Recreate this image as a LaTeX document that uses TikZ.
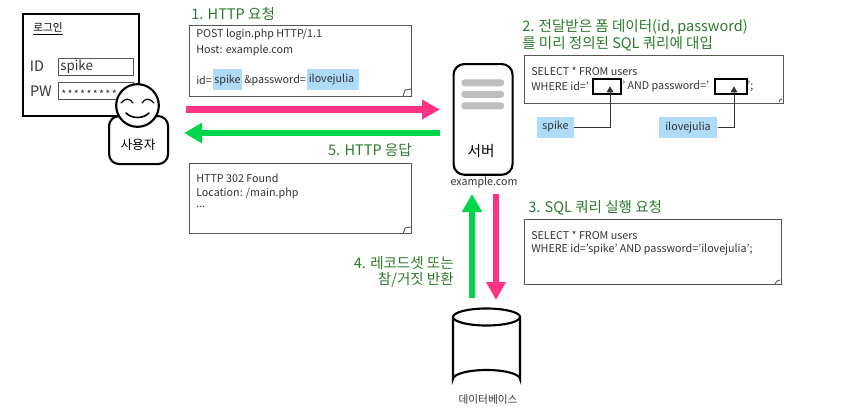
\documentclass[tikz,border=0pt]{standalone}
\usepackage{fontspec}
\setmainfont{Noto Sans CJK KR}
\usetikzlibrary{arrows.meta,positioning,shapes.geometric}
\definecolor{pinkar}{HTML}{FF3385}
\definecolor{greenar}{HTML}{00D64A}
\definecolor{lab}{HTML}{2A7A2A}
\definecolor{hl}{HTML}{ADDBF8}
\definecolor{edge}{HTML}{555555}
\definecolor{barc}{HTML}{BEBEBE}
\definecolor{txt}{HTML}{333333}
\newcommand{\st}{*\kern1pt}
\tikzset{
  x=0.75pt,y=-0.75pt,
  notebox/.style={draw=edge,line width=0.9pt,fill=white,inner sep=0pt,anchor=north west},
  code/.style={anchor=west,inner sep=0pt,font=\fontsize{8.05pt}{10pt}\selectfont,text=txt},
  steplabel/.style={inner sep=0pt,font=\fontsize{10.9pt}{13pt}\selectfont,text=lab},
  hlbox/.style={fill=hl,inner sep=0pt,anchor=north west},
  hltext/.style={inner sep=0pt,font=\fontsize{8.05pt}{10pt}\selectfont,text=txt},
  heavy/.style={draw=black,line width=1.6pt},
  inputbox/.style={draw=edge,line width=0.9pt,fill=white,inner sep=0pt,anchor=north west,minimum width=56.25pt,minimum height=12.75pt},
  slotbox/.style={draw=black,line width=1.2pt,inner sep=0pt,anchor=north west,minimum height=11.25pt},
  pinkarrow/.style={draw=pinkar,line width=5.2pt,-{Triangle[length=13.5pt,width=14pt]}},
  greenarrow/.style={draw=greenar,line width=5.2pt,-{Triangle[length=13.5pt,width=14.5pt]}},
  linkarrow/.style={draw=black!80,line width=0.7pt,-{Triangle[length=4.5pt,width=5pt]}},
  fold/.style={draw=edge,line width=0.7pt,fill=white},
  bar/.style={fill=barc,rounded corners=2.5pt,inner sep=0pt,anchor=north west,minimum width=32.25pt,minimum height=5.25pt},
}
\begin{document}
\begin{tikzpicture}
\useasboundingbox (0,0) rectangle (862,411);
% login form
\node[heavy,draw,fill=white,inner sep=0pt,anchor=north west,minimum width=87pt,minimum height=76.5pt] (login) at (22,12.5) {};
\node[inner sep=0pt,font=\fontsize{8pt}{10pt}\selectfont] (logintitle) at (48,29) {\underline{로그인}};
\node[inner sep=0pt,font=\fontsize{10.8pt}{13pt}\selectfont,text=txt] (idl) at (37,66) {ID};
\node[inner sep=0pt,font=\fontsize{10.8pt}{13pt}\selectfont,text=txt] (pwl) at (41,91) {PW};
\node[inputbox] (idbox) at (57.5,58) {};
\node[inputbox] (pwbox) at (57.5,82) {};
\node[anchor=west,inner sep=0pt,font=\fontsize{10pt}{13pt}\selectfont,text=txt] (idv) at (60,67) {spike};
\node[anchor=west,inner sep=0pt,font=\fontsize{8pt}{10pt}\selectfont,text=txt] (pwv) at (61,94) {\st\st\st\st\st\st\st\st*};
% user
\node[heavy,draw,fill=white,rounded corners=7.5pt,inner sep=0pt,anchor=north west,minimum width=44.25pt,minimum height=36pt] (body) at (108,115) {};
\node[inner sep=0pt,font=\fontsize{9.5pt}{12pt}\selectfont,text=black] (userl) at (138,145) {사용자};
\node[heavy,draw,fill=white,circle,inner sep=0pt,minimum size=32pt] (face) at (137.5,105.5) {};
\draw[black,line width=0.9pt,line cap=round] (121,103) .. controls (125,98) and (130,98) .. (133,103);
\draw[black,line width=0.9pt,line cap=round] (142,103) .. controls (145,98) and (150,98) .. (154,103);
\draw[black,line width=1.2pt,line cap=round] (126,113) .. controls (132,119) and (143,119) .. (149,113);
% note 1
\node[steplabel,anchor=west] (l1) at (191,14) {1. HTTP 요청};
\node[notebox,minimum width=167pt,minimum height=53pt] (n1) at (188.5,25) {};
\node[hlbox,minimum width=21.75pt,minimum height=15.75pt] (h1) at (213,69) {};
\node[hlbox,minimum width=39pt,minimum height=15.75pt] (h2) at (307,69) {};
\node[code] (n1a) at (196,35) {POST login.php HTTP/1.1};
\node[code] (n1b) at (196,50) {Host: example.com};
\node[code] (n1c) at (196,80) {id=};
\node[hltext] (n1d) at (227.5,80) {spike};
\node[code] (n1e) at (244,80) {\&password=};
\node[hltext] (n1f) at (331.5,80) {ilovejulia};
\draw[fold] (403,96) -- (405,90) -- (411,89);
% main arrows
\coordinate (pa) at (186,109.5);
\coordinate (pb) at (440,109.5);
\coordinate (ga) at (440,133);
\coordinate (gb) at (184,133);
\draw[pinkarrow] (pa) -- (pb);
\draw[greenarrow] (ga) -- (gb);
\node[steplabel,anchor=east] (l5) at (412,150) {5. HTTP 응답};
% note 5
\node[notebox,minimum width=167pt,minimum height=53pt] (n5) at (188.5,162.5) {};
\node[code] (n5a) at (196,178) {HTTP 302 Found};
\node[code] (n5b) at (196,193.5) {Location: /main.php};
\node[code] (n5c) at (196,207) {...};
\draw[fold] (403,234) -- (405,228) -- (411,227);
% server
\node[heavy,draw,fill=white,rounded corners=8pt,inner sep=0pt,anchor=north west,minimum width=44.25pt,minimum height=83pt] (server) at (452.5,63) {};
\node[bar] (b1) at (461,79) {};
\node[bar] (b2) at (461,90.5) {};
\node[bar] (b3) at (461,102) {};
\node[inner sep=0pt,font=\fontsize{11pt}{13pt}\selectfont,text=black] (serverl) at (481,151) {서버};
\node[inner sep=0pt,font=\fontsize{8pt}{10pt}\selectfont,text=txt] (serverd) at (484,182) {example.com};
% note 2
\node[steplabel,anchor=west] (l2a) at (522,27) {2. 전달받은 폼 데이터(id, password)};
\node[steplabel,anchor=west] (l2b) at (522,44) {를 미리 정의된 SQL 쿼리에 대입};
\node[notebox,minimum width=194.25pt,minimum height=36pt] (n2) at (523.5,54.5) {};
\node[code] (n2a) at (531,71) {SELECT * FROM users};
\node[code] (n2b) at (531,86) {WHERE id='};
\node[code] (n2c) at (622,86) {' AND password='};
\node[code] (n2d) at (747,86) {';};
\node[slotbox,minimum width=21pt] (s1) at (592,78) {};
\node[slotbox,minimum width=24pt] (s2) at (714,78) {};
\draw[fold] (779,102) -- (780,100) -- (782,99);
\node[hlbox,minimum width=27.5pt,minimum height=15.75pt] (h3) at (537,117) {};
\node[hlbox,minimum width=43.5pt,minimum height=15.75pt] (h4) at (659,117) {};
\node[hltext] (spk) at (555.5,126.5) {spike};
\node[hltext] (ilv) at (688,128) {ilovejulia};
\draw[linkarrow] (h3.east) -| ([xshift=2.4pt]s1.center);
\draw[linkarrow] (h4.east) -| ([xshift=2.4pt]s2.center);
% vertical arrows
\coordinate (ua) at (472,298);
\coordinate (ub) at (472,194);
\coordinate (da) at (496,194);
\coordinate (db) at (496,300);
\draw[greenarrow] (ua) -- (ub);
\draw[pinkarrow] (da) -- (db);
% note 3
\node[steplabel,anchor=west] (l3) at (528,208) {3. SQL 쿼리 실행 요청};
\node[notebox,minimum width=192.75pt,minimum height=48.75pt] (n3) at (523.5,219) {};
\node[code] (n3a) at (531,235) {SELECT * FROM users};
\node[code] (n3b) at (531,250) {WHERE id='spike' AND password='ilovejulia';};
\draw[fold] (775,284) -- (777,281) -- (780,280);
\node[steplabel,anchor=east] (l4a) at (454,263) {4. 레코드셋 또는};
\node[steplabel,anchor=east] (l4b) at (454,280) {참/거짓 반환};
% database
\coordinate (dbtl) at (453,317);
\coordinate (dbtr) at (520,317);
\coordinate (dbbl) at (453,379);
\coordinate (dbbr) at (520,379);
\draw[heavy,fill=white] (dbtl) -- (dbbl) arc[start angle=180,end angle=360,x radius=33.5,y radius=9] -- (dbtr);
\draw[heavy,fill=white] (486.5,317) ellipse[x radius=33.5,y radius=8.5];
\node[inner sep=0pt,font=\fontsize{8pt}{10pt}\selectfont,text=txt] (dbl) at (488,399) {데이터베이스};
\end{tikzpicture}
\end{document}
